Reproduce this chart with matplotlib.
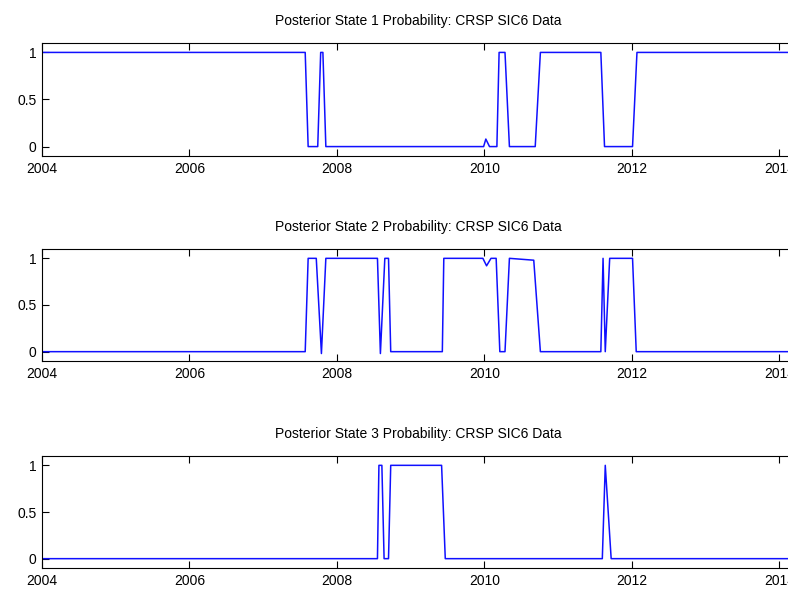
import matplotlib
matplotlib.use("Agg")
import matplotlib.pyplot as plt
from matplotlib import font_manager

# breakpoints (decimal year, probability)
s1_t = [2004.0, 2007.57, 2007.61, 2007.74, 2007.78, 2007.81, 2007.85, 2009.99, 2010.02,
        2010.07, 2010.17, 2010.20, 2010.28, 2010.34, 2010.69, 2010.76, 2011.58, 2011.63,
        2012.01, 2012.07, 2014.2]
s1_p = [1, 1, 0, 0, 1, 1, 0, 0, 0.08, 0, 0, 1, 1, 0, 0, 1, 1, 0, 0, 1, 1]

s2_t = [2004.0, 2007.57, 2007.61, 2007.72, 2007.79, 2007.85, 2008.55, 2008.59, 2008.65,
        2008.70, 2008.73, 2009.43, 2009.45, 2009.98, 2010.03, 2010.09, 2010.16, 2010.21,
        2010.28, 2010.34, 2010.67, 2010.76, 2011.58, 2011.61, 2011.64, 2011.70, 2012.01,
        2012.06, 2014.2]
s2_p = [0, 0, 1, 1, -0.02, 1, 1, -0.02, 1, 1, 0, 0, 1, 1, 0.92, 1, 1, 0, 0, 1, 0.98, 0,
        0, 1, 0, 1, 1, 0, 0]

s3_t = [2004.0, 2008.55, 2008.57, 2008.61, 2008.64, 2008.70, 2008.73, 2009.42, 2009.47,
        2011.60, 2011.64, 2011.72, 2014.2]
s3_p = [0, 0, 1, 1, 0, 0, 1, 1, 0, 0, 1, 0, 0]

series = [(s1_t, s1_p), (s2_t, s2_p), (s3_t, s3_p)]
titles = ["Posterior State %d Probability: CRSP SIC6 Data" % i for i in (1, 2, 3)]
xticks = [2004, 2006, 2008, 2010, 2012, 2014]
yticks = [0, 0.5, 1]

names = {f.name for f in font_manager.fontManager.ttflist}
if "Liberation Sans Narrow" in names:
    plt.rcParams["font.family"] = ["Liberation Sans Narrow", "DejaVu Sans"]
    fs = 12
else:
    plt.rcParams["font.family"] = ["Liberation Sans", "DejaVu Sans"]
    fs = 10

fig = plt.figure(figsize=(7.88, 5.92), dpi=100)
W, H = 788.0, 592.0
# axes boxes in pixels (top, bottom); right edge runs just past the figure like the reference
boxes = [(43, 156), (249, 361), (456, 568)]
left, right = 42, 794
for (t, p), title, (top, bot) in zip(series, titles, boxes):
    ax = fig.add_axes([left / W, 1 - bot / H, (right - left) / W, (bot - top) / H])
    ax.plot(t, p, color="#1010ff", lw=1.1)
    ax.set_xlim(2004, 2014.2)
    ax.set_ylim(-0.1, 1.1)
    ax.set_xticks(xticks)
    ax.set_yticks(yticks)
    ax.set_yticklabels(["0", "0.5", "1"])
    ax.tick_params(direction="in", length=5, width=0.8, top=True, right=False,
                   labelsize=fs, pad=4)
    for sp in ax.spines.values():
        sp.set_linewidth(0.8)
    ax.set_title(title, fontsize=fs, pad=13)

fig.savefig("out.png", dpi=100)
